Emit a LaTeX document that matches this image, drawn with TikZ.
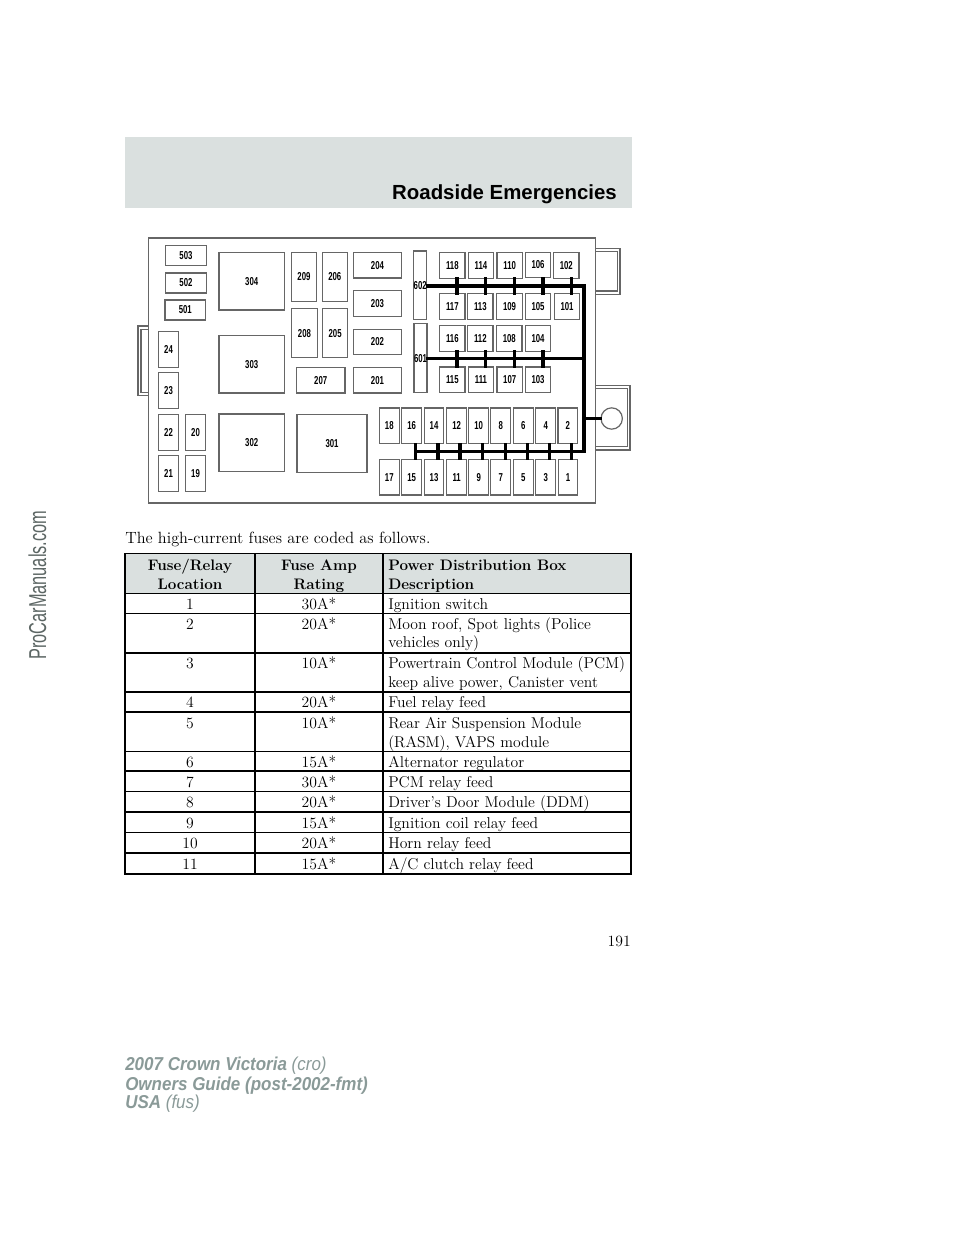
\documentclass[tikz,border=0pt]{standalone}
\usepackage{fontspec}
\setsansfont{Liberation Sans}
\newfontfamily\fusefont[FakeStretch=0.68]{Liberation Sans}
\newfontfamily\markfont[FakeStretch=0.67]{Liberation Sans}
\newfontfamily\footfont[FakeStretch=0.91]{Liberation Sans}
\definecolor{barcol}{HTML}{DAE0DF}
\definecolor{footcol}{HTML}{8A9A98}
\definecolor{markcol}{HTML}{5C6664}
\begin{document}
\begin{tikzpicture}[x=0.75pt,y=-0.75pt]
  \tikzstyle{fuse}=[draw=black!60,line width=0.9pt,fill=white,inner sep=0pt,font=\fusefont\bfseries\fontsize{8.6}{10}\selectfont]
  \tikzstyle{wide}=[fuse,minimum width=30.4pt,minimum height=15pt]
  \tikzstyle{tall}=[fuse,minimum width=14.8pt,minimum height=26.7pt]
  \tikzstyle{square}=[fuse,minimum width=19pt,minimum height=19.2pt]
  \tikzstyle{relay}=[fuse,minimum width=49pt,minimum height=43.3pt]
  \tikzstyle{mini}=[fuse,minimum width=19pt,minimum height=36.5pt]
  \tikzstyle{block}=[fuse,minimum width=36.3pt,minimum height=19.3pt]
  \tikzstyle{strip}=[fuse,minimum width=9.8pt,minimum height=51.5pt]
  \tikzstyle{bus}=[draw,line width=2.3pt,line cap=rect]
  \tikzstyle{housing}=[draw=black!60,line width=0.9pt,fill=white]
  \tikzstyle{rule}=[draw,line width=1.2pt]
  \tikzstyle{body}=[inner sep=0pt,anchor=base,font=\fontsize{11.75}{14}\selectfont]
  \tikzstyle{left}=[body,anchor=base west]
  \tikzstyle{head}=[body,font=\bfseries\fontsize{11.4}{14}\selectfont]
  \tikzstyle{headleft}=[head,anchor=base west]
  \tikzstyle{foot}=[inner sep=0pt,anchor=base west,text=footcol,font=\footfont\fontsize{14}{16}\selectfont]
  \useasboundingbox (0,0) rectangle (960,1242);
  % header bar
  \fill[barcol] (124.7,137.3) rectangle (632,207.7);
  \node[inner sep=0pt,anchor=base east,font=\sffamily\bfseries\fontsize{15.3}{18}\selectfont] (title) at (617,199.3) {Roadside Emergencies};
  % housing
  \draw[housing] (138,326) rectangle (149,395.3);
  \draw[housing] (141,329.3) rectangle (149,392.3);
  \draw[housing] (590,248.3) rectangle (620,294.3);
  \draw[housing] (590,251.7) rectangle (617.3,291);
  \draw[housing] (590,385.7) rectangle (630,450);
  \draw[housing] (590,388.7) rectangle (627.3,446.7);
  \draw[housing] (148.7,238) rectangle (595.3,503);
  \node[wide] (503) at (186,255.2) {503};
  \node[wide] (502) at (186,283) {502};
  \node[wide] (501) at (185.3,310) {501};
  \node[tall] (24) at (168.5,349.3) {24};
  \node[tall] (23) at (168.5,390.5) {23};
  \node[tall] (22) at (168.5,432.5) {22};
  \node[tall] (21) at (168.5,473.5) {21};
  \node[tall] (20) at (195.5,432.5) {20};
  \node[tall] (19) at (195.5,473.5) {19};
  \node[relay] (304) at (251.7,281.2) {304};
  \node[relay] (303) at (251.7,364.2) {303};
  \node[relay] (302) at (251.7,442.8) {302};
  \node[relay,minimum width=52.5pt] (301) at (332,443.3) {301};
  \node[mini] (209) at (304,277) {209};
  \node[mini] (206) at (334.8,277) {206};
  \node[mini] (208) at (304.5,333.2) {208};
  \node[mini] (205) at (335.1,333.2) {205};
  \node[block] (207) at (320.7,380.2) {207};
  \node[block] (204) at (377.5,265.2) {204};
  \node[block] (203) at (377.5,303.7) {203};
  \node[block] (202) at (377.5,342) {202};
  \node[block] (201) at (377.5,380.2) {201};
  \node[strip] (602) at (420.2,285.3) {602};
  \node[strip] (601) at (420.5,358.2) {601};
  \node[square] (118) at (452.3,265.3) {118};
  \node[square] (114) at (481,265.3) {114};
  \node[square] (110) at (509.7,265.3) {110};
  \node[square] (106) at (538,265) {106};
  \node[square] (102) at (566.3,265.3) {102};
  \node[square] (117) at (452.3,306.5) {117};
  \node[square] (113) at (480.3,306.5) {113};
  \node[square] (109) at (509.5,306.5) {109};
  \node[square] (105) at (538,306.5) {105};
  \node[square] (101) at (567,306.5) {101};
  \node[square] (116) at (452.3,338.3) {116};
  \node[square] (112) at (480.3,338.3) {112};
  \node[square] (108) at (509.3,338.3) {108};
  \node[square] (104) at (538,338.3) {104};
  \node[square] (115) at (452.3,379.8) {115};
  \node[square] (111) at (481,379.8) {111};
  \node[square] (107) at (509.7,379.8) {107};
  \node[square] (103) at (538,379.8) {103};
  \node[tall] (18) at (389.3,425.7) {18};
  \node[tall] (16) at (411.7,425.7) {16};
  \node[tall] (14) at (434,425.7) {14};
  \node[tall] (12) at (456.7,425.7) {12};
  \node[tall] (10) at (478.7,425.7) {10};
  \node[tall] (8) at (500.7,425.7) {8};
  \node[tall] (6) at (523.3,425.7) {6};
  \node[tall] (4) at (545.7,425.7) {4};
  \node[tall] (2) at (567.8,425.7) {2};
  \node[tall] (17) at (389.3,477.2) {17};
  \node[tall] (15) at (411.7,477.2) {15};
  \node[tall] (13) at (434,477.2) {13};
  \node[tall] (11) at (456.7,477.2) {11};
  \node[tall] (9) at (478.7,477.2) {9};
  \node[tall] (7) at (500.7,477.2) {7};
  \node[tall] (5) at (523.3,477.2) {5};
  \node[tall] (3) at (545.7,477.2) {3};
  \node[tall] (1) at (568,477.2) {1};
  \node[circle,draw=black!60,line width=0.9pt,fill=white,minimum size=16pt,inner sep=0pt] (stud) at (611.7,418.5) {};
  % buses
  \coordinate (bustop) at (584,286);
  \coordinate (busmid) at (584,358.2);
  \coordinate (busstud) at (584,418.5);
  \coordinate (buscorner) at (584,451.3);
  \coordinate (busend) at (415.7,451.3);
  \draw[bus] (602.east |- bustop) -- (bustop) -- (buscorner) -- (busend);
  \draw[bus] (601.east) -- (busmid);
  \draw[bus] (busstud) -- (stud.west);
  \draw[bus] (118.south -| 457,0) -- (117.north -| 457,0);
  \draw[bus] (114.south -| 485.7,0) -- (113.north -| 485.7,0);
  \draw[bus] (110.south -| 514.3,0) -- (109.north -| 514.3,0);
  \draw[bus] (106.south -| 543,0) -- (105.north -| 543,0);
  \draw[bus] (102.south -| 571.3,0) -- (101.north -| 571.3,0);
  \draw[bus] (116.south -| 457,0) -- (115.north -| 457,0);
  \draw[bus] (112.south -| 485.7,0) -- (111.north -| 485.7,0);
  \draw[bus] (108.south -| 514.3,0) -- (107.north -| 514.3,0);
  \draw[bus] (104.south -| 543,0) -- (103.north -| 543,0);
  \draw[bus] (16.south -| 415.7,0) -- (15.north -| 415.7,0);
  \draw[bus] (14.south -| 438,0) -- (13.north -| 438,0);
  \draw[bus] (12.south -| 460,0) -- (11.north -| 460,0);
  \draw[bus] (10.south -| 482.7,0) -- (9.north -| 482.7,0);
  \draw[bus] (8.south -| 505.3,0) -- (7.north -| 505.3,0);
  \draw[bus] (6.south -| 527.3,0) -- (5.north -| 527.3,0);
  \draw[bus] (4.south -| 549.3,0) -- (3.north -| 549.3,0);
  \draw[bus] (2.south -| 571.7,0) -- (1.north -| 571.7,0);
  \node[left,font=\fontsize{12.2}{14}\selectfont] (intro) at (125,543) {The high-current fuses are coded as follows.};
  % table
  \fill[barcol] (125,553.3) rectangle (631,593.3);
  \draw[rule] (125,553.3) rectangle (631,874);
  \draw[rule] (254.7,553.3) -- (254.7,874);
  \draw[rule] (383,553.3) -- (383,874);
  \draw[rule] (125,593.3) -- (631,593.3);
  \draw[rule] (125,613.3) -- (631,613.3);
  \draw[rule] (125,652.7) -- (631,652.7);
  \draw[rule] (125,691.7) -- (631,691.7);
  \draw[rule] (125,712) -- (631,712);
  \draw[rule] (125,751.5) -- (631,751.5);
  \draw[rule] (125,771) -- (631,771);
  \draw[rule] (125,791.5) -- (631,791.5);
  \draw[rule] (125,812) -- (631,812);
  \draw[rule] (125,832.5) -- (631,832.5);
  \draw[rule] (125,853) -- (631,853);
  \node[head] (loca) at (190,570) {Fuse/Relay};
  \node[head] (locb) at (190,589) {Location};
  \node[head] (ampa) at (319,570) {Fuse Amp};
  \node[head] (ampb) at (319,589) {Rating};
  \node[headleft] (desca) at (388,570) {Power Distribution Box};
  \node[headleft] (descb) at (388,589) {Description};
  \node[body] (loc1) at (190,609) {1};
  \node[body] (amp1) at (319,609) {30A*};
  \node[left] (desc1) at (388,609) {Ignition switch};
  \node[body] (loc2) at (190,629) {2};
  \node[body] (amp2) at (319,629) {20A*};
  \node[left] (desc2) at (388,629) {Moon roof, Spot lights (Police};
  \node[left] (desc2b) at (388,647.7) {vehicles only)};
  \node[body] (loc3) at (190,668.3) {3};
  \node[body] (amp3) at (319,668.3) {10A*};
  \node[left] (desc3) at (388,668.3) {Powertrain Control Module (PCM)};
  \node[left] (desc3b) at (388,687.3) {keep alive power, Canister vent};
  \node[body] (loc4) at (190,707.7) {4};
  \node[body] (amp4) at (319,707.7) {20A*};
  \node[left] (desc4) at (388,707.7) {Fuel relay feed};
  \node[body] (loc5) at (190,728.3) {5};
  \node[body] (amp5) at (319,728.3) {10A*};
  \node[left] (desc5) at (388,728.3) {Rear Air Suspension Module};
  \node[left] (desc5b) at (388,747.3) {(RASM), VAPS module};
  \node[body] (loc6) at (190,767.3) {6};
  \node[body] (amp6) at (319,767.3) {15A*};
  \node[left] (desc6) at (388,767.3) {Alternator regulator};
  \node[body] (loc7) at (190,787.3) {7};
  \node[body] (amp7) at (319,787.3) {30A*};
  \node[left] (desc7) at (388,787.3) {PCM relay feed};
  \node[body] (loc8) at (190,807.7) {8};
  \node[body] (amp8) at (319,807.7) {20A*};
  \node[left] (desc8) at (388,807.7) {Driver’s Door Module (DDM)};
  \node[body] (loc9) at (190,828) {9};
  \node[body] (amp9) at (319,828) {15A*};
  \node[left] (desc9) at (388,828) {Ignition coil relay feed};
  \node[body] (loc10) at (190,848.7) {10};
  \node[body] (amp10) at (319,848.7) {20A*};
  \node[left] (desc10) at (388,848.7) {Horn relay feed};
  \node[body] (loc11) at (190,869) {11};
  \node[body] (amp11) at (319,869) {15A*};
  \node[left] (desc11) at (388,869) {A/C clutch relay feed};
  % page furniture
  \node[body,anchor=base east] (pagenum) at (631,946) {191};
  \node[foot] (foota) at (125,1070.7) {\bfseries\itshape 2007 Crown Victoria\mdseries\ (cro)};
  \node[foot] (footb) at (125,1090) {\bfseries\itshape Owners Guide (post-2002-fmt)};
  \node[foot] (footc) at (125,1108.3) {\bfseries\itshape USA\mdseries\ (fus)};
  \node[inner sep=0pt,anchor=base west,rotate=90,text=markcol,font=\markfont\fontsize{18.3}{20}\selectfont] (watermark) at (46,660) {ProCarManuals.com};
\end{tikzpicture}
\end{document}
